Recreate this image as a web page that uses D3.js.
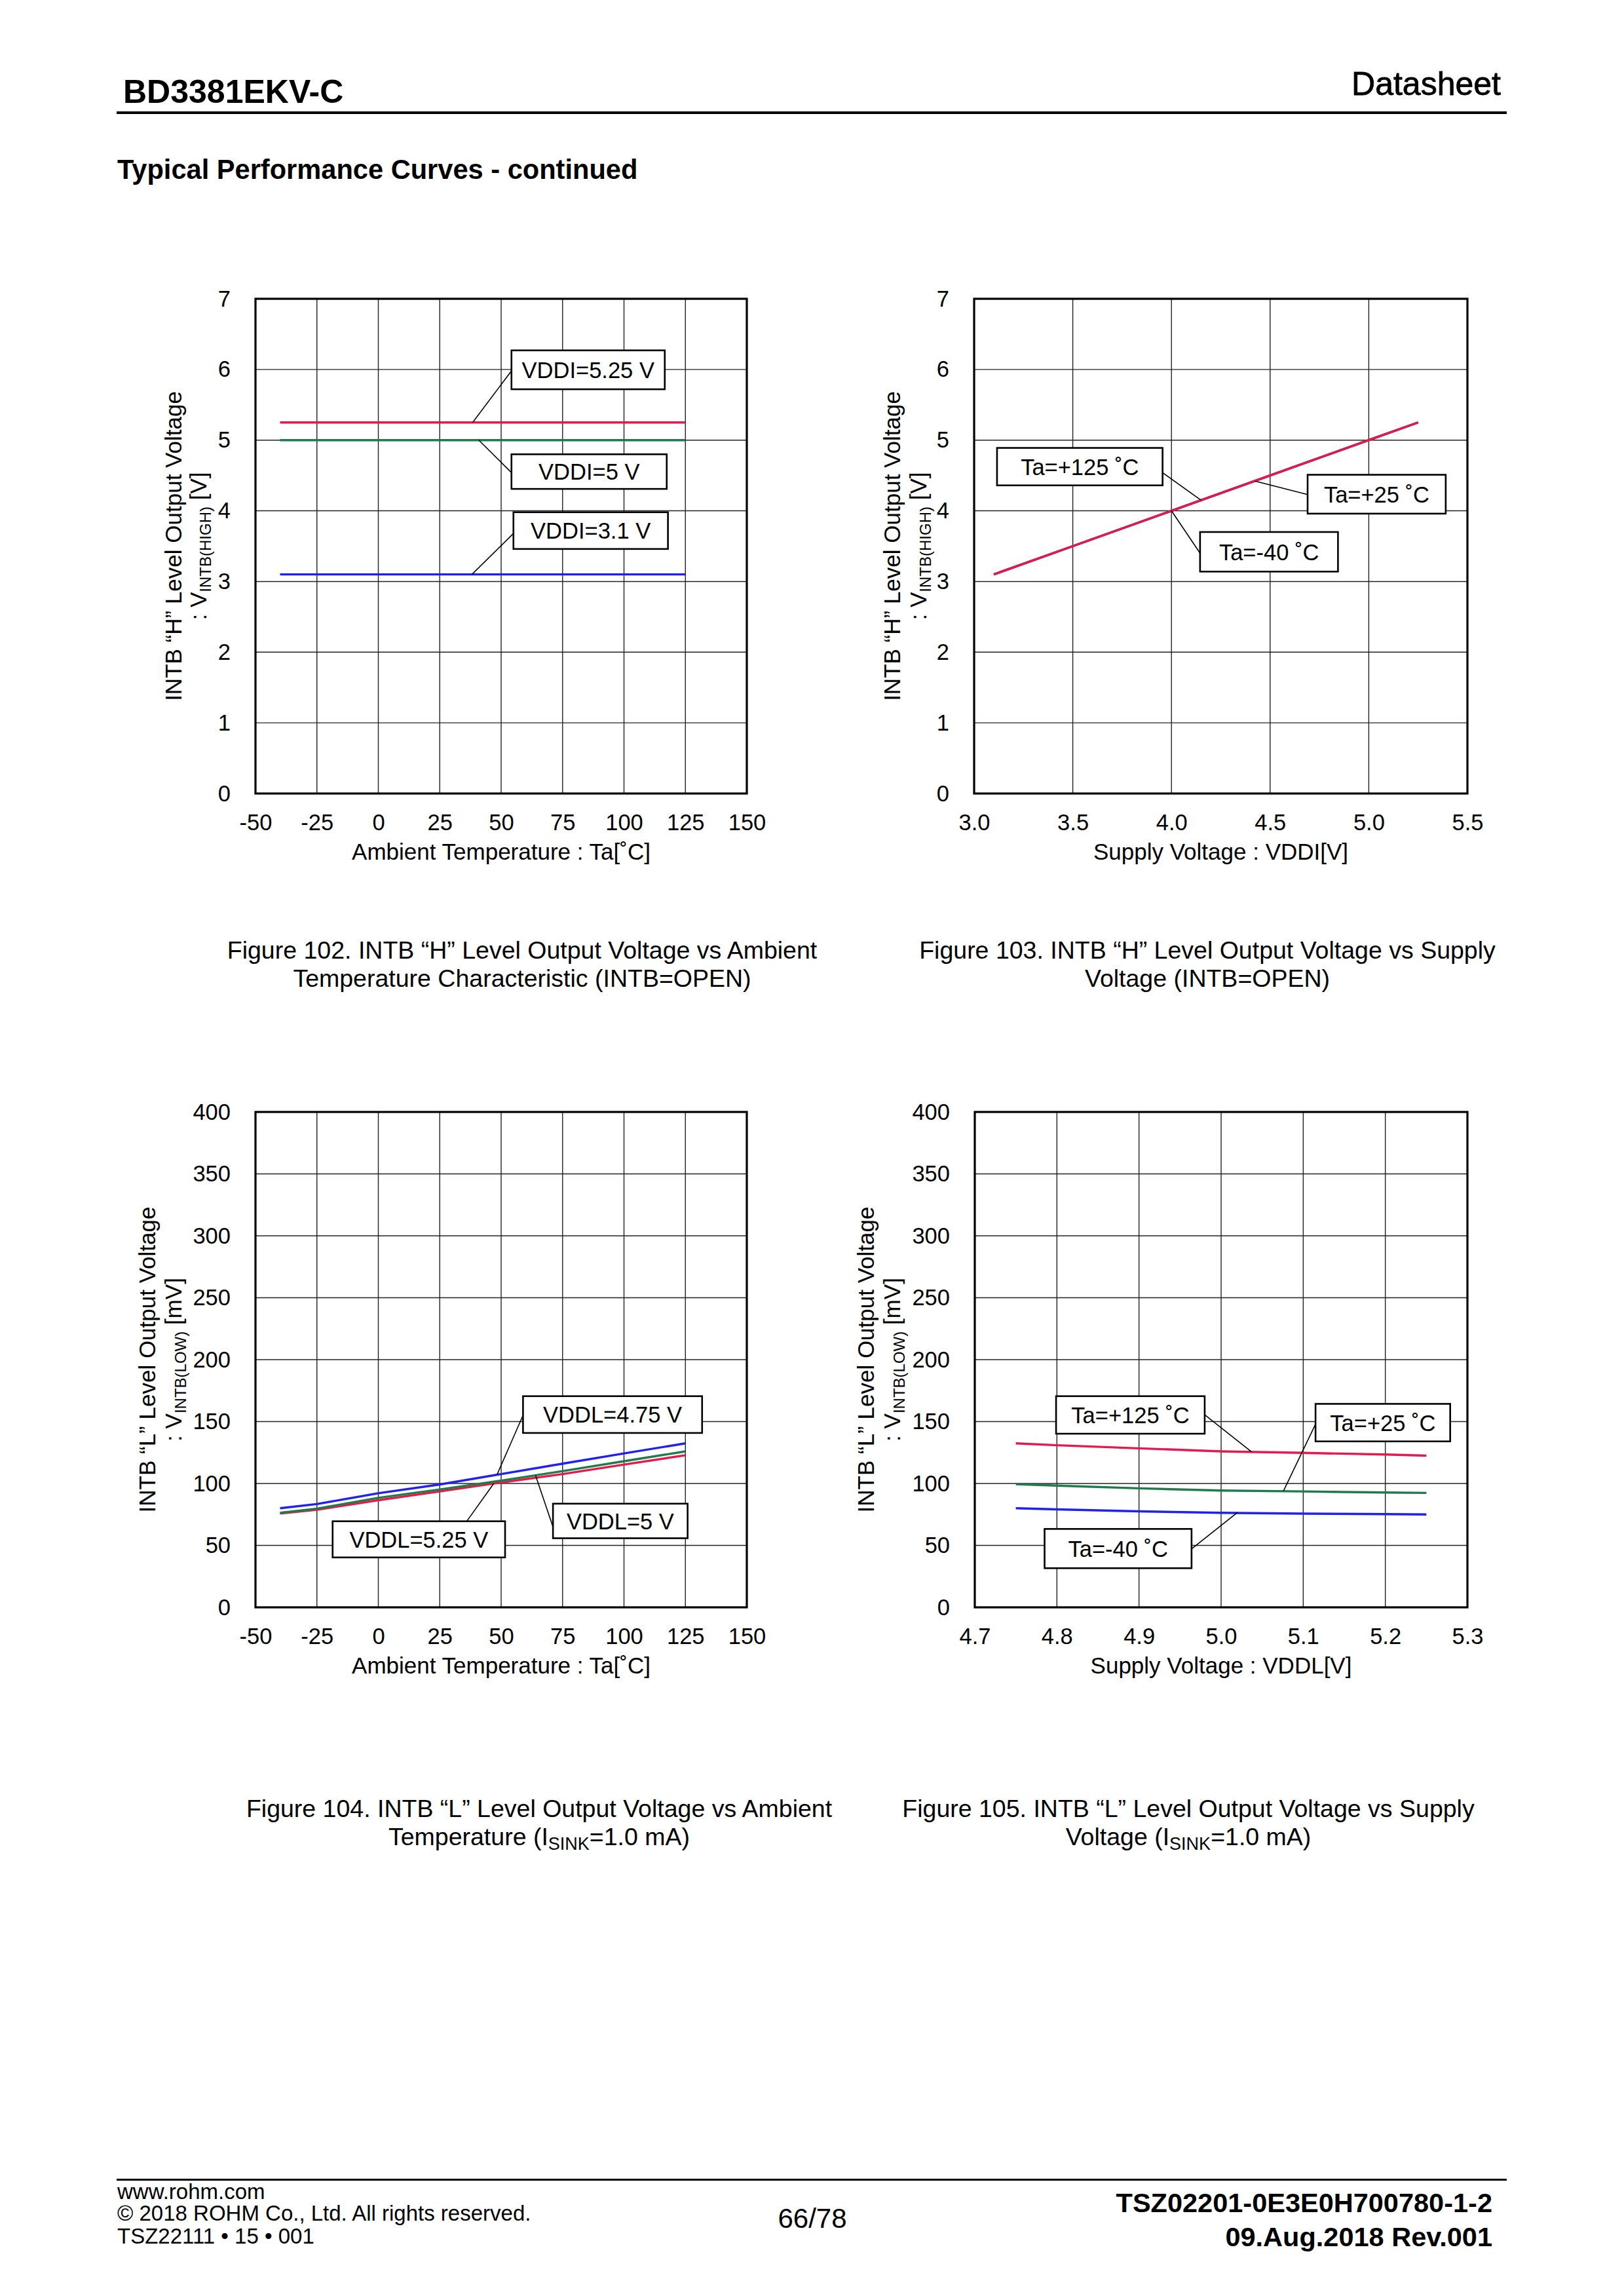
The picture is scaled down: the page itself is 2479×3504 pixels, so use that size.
<!DOCTYPE html>
<html>
<head>
<meta charset="utf-8">
<script src="https://cdn.jsdelivr.net/npm/d3@7"></script>
<style>
  html, body { margin: 0; padding: 0; background: #fff; }
  svg { display: block; }
  text { font-family: "Liberation Sans", Arial, Helvetica, sans-serif; fill: #000; }
</style>
</head>
<body>
<svg id="page" width="2479" height="3504"></svg>
<script>
// ---------------- DATA ----------------
// Tick labels
const tempTicks = [-50, -25, 0, 25, 50, 75, 100, 125, 150];
const vHighTicks = [0, 1, 2, 3, 4, 5, 6, 7];
const vddiTicks = [3.0, 3.5, 4.0, 4.5, 5.0, 5.5];
const vLowTicks = [0, 50, 100, 150, 200, 250, 300, 350, 400];
const vddlTicks = [4.7, 4.8, 4.9, 5.0, 5.1, 5.2, 5.3];

// Figure 102: V_INTB(HIGH) [V] vs Ta
const fig102Temps = [-40, -25, 0, 25, 50, 75, 100, 125];
const fig102Vddi310 = [3.10, 3.10, 3.10, 3.10, 3.10, 3.10, 3.10, 3.10];
const fig102Vddi500 = [5.00, 5.00, 5.00, 5.00, 5.00, 5.00, 5.00, 5.00];
const fig102Vddi525 = [5.25, 5.25, 5.25, 5.25, 5.25, 5.25, 5.25, 5.25];

// Figure 103: V_INTB(HIGH) [V] vs VDDI
const fig103Vddi = [3.1, 3.5, 4.0, 4.5, 5.0, 5.25];
const fig103TaM40 = [3.10, 3.50, 4.00, 4.50, 5.00, 5.25];
const fig103Ta25 = [3.10, 3.50, 4.00, 4.50, 5.00, 5.25];
const fig103Ta125 = [3.10, 3.50, 4.00, 4.50, 5.00, 5.25];

// Figure 104: V_INTB(LOW) [mV] vs Ta
const fig104Temps = [-40, -25, 0, 25, 50, 75, 100, 125];
const fig104Vddl475 = [80.0, 83.4, 92.1, 99.2, 107.6, 116.0, 124.3, 132.4];
const fig104Vddl500 = [76.3, 79.7, 88.4, 95.2, 102.3, 110.0, 118.0, 125.9];
const fig104Vddl525 = [75.7, 78.8, 86.5, 93.6, 100.8, 107.6, 115.3, 122.8];

// Figure 105: V_INTB(LOW) [mV] vs VDDL
const fig105Vddl = [4.75, 4.8, 4.9, 5.0, 5.1, 5.2, 5.25];
const fig105TaM40 = [80.0, 79.1, 77.5, 76.3, 75.7, 75.3, 75.0];
const fig105Ta25 = [99.5, 98.3, 96.1, 94.3, 93.6, 92.7, 92.4];
const fig105Ta125 = [132.4, 130.9, 128.4, 125.9, 124.7, 123.4, 122.5];

// ---------------- STYLE / LAYOUT ----------------
const COL = { red: "#e8184c", green: "#1f7a4c", blue: "#2020f0" };
const FONT_TICK = 34.5;
const FONT_TITLE = 35;
const FONT_CAP = 37.5;

const svg = d3.select("#page");
svg.append("rect").attr("width", 2479).attr("height", 3504).attr("fill", "#fff");

// Header
svg.append("text").attr("x", 188).attr("y", 157).attr("font-size", 50).attr("font-weight", "bold").text("BD3381EKV-C");
svg.append("text").attr("x", 2291).attr("y", 145).attr("font-size", 50).attr("text-anchor", "end").attr("stroke", "#000").attr("stroke-width", 0.8).text("Datasheet");
svg.append("rect").attr("x", 178).attr("y", 170).attr("width", 2122).attr("height", 4).attr("fill", "#000");
svg.append("text").attr("x", 179).attr("y", 273).attr("font-size", 41.6).attr("font-weight", "bold").text("Typical Performance Curves - continued");

// Footer
svg.append("rect").attr("x", 178).attr("y", 3325).attr("width", 2122).attr("height", 3).attr("fill", "#000");
const footL = [["www.rohm.com", 3356], ["\u00A9 2018 ROHM Co., Ltd. All rights reserved.", 3389], ["TSZ22111 \u2022 15 \u2022 001", 3424]];
footL.forEach(([t, y]) => svg.append("text").attr("x", 179).attr("y", y).attr("font-size", 33).text(t));
svg.append("text").attr("x", 1240).attr("y", 3400).attr("font-size", 42).attr("text-anchor", "middle").text("66/78");
svg.append("text").attr("x", 2278).attr("y", 3376).attr("font-size", 41.5).attr("font-weight", "bold").attr("text-anchor", "end").text("TSZ02201-0E3E0H700780-1-2");
svg.append("text").attr("x", 2278).attr("y", 3428).attr("font-size", 41.5).attr("font-weight", "bold").attr("text-anchor", "end").text("09.Aug.2018 Rev.001");

function drawChart(cfg) {
  const g = svg.append("g");
  const x = d3.scaleLinear().domain(cfg.xDomain).range([cfg.box.left, cfg.box.right]);
  const y = d3.scaleLinear().domain(cfg.yDomain).range([cfg.box.bottom, cfg.box.top]);

  // grid
  g.append("g").selectAll("line").data(cfg.xTicks).join("line")
    .attr("x1", d => x(d)).attr("x2", d => x(d))
    .attr("y1", cfg.box.top).attr("y2", cfg.box.bottom)
    .attr("stroke", "#222").attr("stroke-width", 1.4);
  g.append("g").selectAll("line").data(cfg.yTicks).join("line")
    .attr("y1", d => y(d)).attr("y2", d => y(d))
    .attr("x1", cfg.box.left).attr("x2", cfg.box.right)
    .attr("stroke", "#222").attr("stroke-width", 1.4);

  // axes (labels only)
  const xa = g.append("g").attr("transform", `translate(0,${cfg.box.bottom})`)
    .call(d3.axisBottom(x).tickValues(cfg.xTicks).tickSize(0).tickPadding(32).tickFormat(cfg.xFmt));
  const ya = g.append("g").attr("transform", `translate(${cfg.box.left},0)`)
    .call(d3.axisLeft(y).tickValues(cfg.yTicks).tickSize(0).tickPadding(38).tickFormat(cfg.yFmt));
  [xa, ya].forEach(a => {
    a.select(".domain").remove();
    a.selectAll("text").attr("font-size", FONT_TICK).attr("font-family", "Liberation Sans, Arial, sans-serif").attr("fill", "#000");
  });

  // series
  const line = d3.line().x(d => x(d[0])).y(d => y(d[1]));
  cfg.series.forEach(s => {
    const pts = s.xs.map((xv, i) => [xv, s.ys[i]]);
    g.append("path").attr("d", line(pts)).attr("fill", "none")
      .attr("stroke", s.color).attr("stroke-width", 3.4).attr("stroke-linejoin", "round");
  });

  // frame
  g.append("rect").attr("x", cfg.box.left).attr("y", cfg.box.top)
    .attr("width", cfg.box.right - cfg.box.left).attr("height", cfg.box.bottom - cfg.box.top)
    .attr("fill", "none").attr("stroke", "#000").attr("stroke-width", 3.2);

  // annotations
  cfg.notes.forEach(n => {
    g.append("line").attr("x1", x(n.from[0])).attr("y1", y(n.from[1]))
      .attr("x2", x(n.to[0])).attr("y2", y(n.to[1]))
      .attr("stroke", "#000").attr("stroke-width", 1.6);
    const bx = x(n.bx[0]), bw = x(n.bx[1]) - bx;
    const by = y(n.by[1]), bh = y(n.by[0]) - by;
    g.append("rect").attr("x", bx).attr("y", by).attr("width", bw).attr("height", bh)
      .attr("fill", "#fff").attr("stroke", "#000").attr("stroke-width", 2.6);
    g.append("text").attr("x", bx + bw / 2).attr("y", by + bh / 2).attr("dy", "0.36em")
      .attr("text-anchor", "middle").attr("font-size", FONT_TICK).text(n.text);
  });

  // x title
  g.append("text").attr("x", (cfg.box.left + cfg.box.right) / 2).attr("y", cfg.box.bottom + 101)
    .attr("text-anchor", "middle").attr("font-size", FONT_TITLE).text(cfg.xTitle);

  // y title (two lines, rotated)
  const cy = (cfg.box.top + cfg.box.bottom) / 2;
  g.append("text").attr("transform", `translate(${cfg.box.left - cfg.yTitleOff[0]},${cy}) rotate(-90)`)
    .attr("dy", "0.36em").attr("text-anchor", "middle").attr("font-size", FONT_TITLE).text(cfg.yTitle1);
  const t2 = g.append("text").attr("transform", `translate(${cfg.box.left - cfg.yTitleOff[1]},${cy}) rotate(-90)`)
    .attr("dy", "0.36em").attr("text-anchor", "middle").attr("font-size", FONT_TITLE);
  t2.append("tspan").text(": V");
  t2.append("tspan").attr("font-size", 24).attr("dy", 7).text(cfg.ySub);
  t2.append("tspan").attr("dy", -7).text(" " + cfg.yUnit);

  // caption
  const capX = cfg.capX;
  g.append("text").attr("x", capX).attr("y", cfg.capY).attr("text-anchor", "middle").attr("font-size", FONT_CAP).text(cfg.cap1);
  const c2 = g.append("text").attr("x", capX).attr("y", cfg.capY + 43).attr("text-anchor", "middle").attr("font-size", FONT_CAP);
  cfg.cap2.forEach(p => {
    const ts = c2.append("tspan").text(p.t);
    if (p.sub) ts.attr("font-size", 27).attr("dy", 7);
    if (p.back) ts.attr("dy", -7);
  });
}

const deg = "\u02DA";
// plain hyphen-minus like the reference
const fmt0 = d => d3.format("d")(d).replace("\u2212", "-");
const fmt1 = d => d3.format(".1f")(d).replace("\u2212", "-");

drawChart({
  box: { left: 390, right: 1140, top: 456, bottom: 1211 },
  xDomain: [-50, 150], yDomain: [0, 7], xTicks: tempTicks, yTicks: vHighTicks, xFmt: fmt0, yFmt: fmt0,
  series: [
    { xs: fig102Temps, ys: fig102Vddi310, color: COL.blue },
    { xs: fig102Temps, ys: fig102Vddi500, color: COL.green },
    { xs: fig102Temps, ys: fig102Vddi525, color: COL.red }
  ],
  notes: [
    { text: "VDDI=5.25 V", bx: [54.2, 116.6], by: [5.72, 6.27], from: [54.2, 5.98], to: [38.4, 5.25] },
    { text: "VDDI=5 V", bx: [54.2, 117.4], by: [4.31, 4.80], from: [54.2, 4.54], to: [40.9, 5.0] },
    { text: "VDDI=3.1 V", bx: [55.0, 117.9], by: [3.46, 3.98], from: [55.0, 3.68], to: [38.1, 3.1] }
  ],
  xTitle: "Ambient Temperature : Ta[" + deg + "C]",
  yTitle1: "INTB \u201CH\u201D Level Output Voltage", ySub: "INTB(HIGH)", yUnit: "[V]", yTitleOff: [126, 88],
  capX: 797, capY: 1463,
  cap1: "Figure 102. INTB \u201CH\u201D Level Output Voltage vs Ambient",
  cap2: [{ t: "Temperature Characteristic (INTB=OPEN)" }]
});

drawChart({
  box: { left: 1487, right: 2240, top: 456, bottom: 1211 },
  xDomain: [3.0, 5.5], yDomain: [0, 7], xTicks: vddiTicks, yTicks: vHighTicks, xFmt: fmt1, yFmt: fmt0,
  series: [
    { xs: fig103Vddi, ys: fig103TaM40, color: COL.blue },
    { xs: fig103Vddi, ys: fig103Ta25, color: COL.green },
    { xs: fig103Vddi, ys: fig103Ta125, color: COL.red }
  ],
  notes: [
    { text: "Ta=+125 " + deg + "C", bx: [3.116, 3.955], by: [4.36, 4.89], from: [3.955, 4.54], to: [4.15, 4.15] },
    { text: "Ta=+25 " + deg + "C", bx: [4.69, 5.39], by: [3.96, 4.51], from: [4.69, 4.23], to: [4.424, 4.42] },
    { text: "Ta=-40 " + deg + "C", bx: [4.145, 4.844], by: [3.14, 3.70], from: [4.145, 3.40], to: [4.0, 4.0] }
  ],
  xTitle: "Supply Voltage : VDDI[V]",
  yTitle1: "INTB \u201CH\u201D Level Output Voltage", ySub: "INTB(HIGH)", yUnit: "[V]", yTitleOff: [126, 86],
  capX: 1843, capY: 1463,
  cap1: "Figure 103. INTB \u201CH\u201D Level Output Voltage vs Supply",
  cap2: [{ t: "Voltage (INTB=OPEN)" }]
});

drawChart({
  box: { left: 390, right: 1140, top: 1697, bottom: 2453 },
  xDomain: [-50, 150], yDomain: [0, 400], xTicks: tempTicks, yTicks: vLowTicks, xFmt: fmt0, yFmt: fmt0,
  series: [
    { xs: fig104Temps, ys: fig104Vddl525, color: COL.red },
    { xs: fig104Temps, ys: fig104Vddl500, color: COL.green },
    { xs: fig104Temps, ys: fig104Vddl475, color: COL.blue }
  ],
  notes: [
    { text: "VDDL=4.75 V", bx: [58.9, 131.8], by: [140.8, 170.5], from: [58.9, 155], to: [48.4, 107.5] },
    { text: "VDDL=5 V", bx: [71.1, 125.9], by: [55.8, 83.7], from: [71.1, 65], to: [64, 106.5] },
    { text: "VDDL=5.25 V", bx: [-18.6, 51.6], by: [40.3, 69.5], from: [36.0, 69.5], to: [47, 100] }
  ],
  xTitle: "Ambient Temperature : Ta[" + deg + "C]",
  yTitle1: "INTB \u201CL\u201D Level Output Voltage", ySub: "INTB(LOW)", yUnit: "[mV]", yTitleOff: [166, 126],
  capX: 823, capY: 2773,
  cap1: "Figure 104. INTB \u201CL\u201D Level Output Voltage vs Ambient",
  cap2: [{ t: "Temperature (I" }, { t: "SINK", sub: true }, { t: "=1.0 mA)", back: true }]
});

drawChart({
  box: { left: 1488, right: 2240, top: 1697, bottom: 2453 },
  xDomain: [4.7, 5.3], yDomain: [0, 400], xTicks: vddlTicks, yTicks: vLowTicks, xFmt: fmt1, yFmt: fmt0,
  series: [
    { xs: fig105Vddl, ys: fig105TaM40, color: COL.blue },
    { xs: fig105Vddl, ys: fig105Ta25, color: COL.green },
    { xs: fig105Vddl, ys: fig105Ta125, color: COL.red }
  ],
  notes: [
    { text: "Ta=+125 " + deg + "C", bx: [4.799, 4.980], by: [140.2, 170.5], from: [4.980, 155.5], to: [5.037, 125.6] },
    { text: "Ta=+25 " + deg + "C", bx: [5.115, 5.279], by: [134, 164.3], from: [5.115, 148], to: [5.076, 94] },
    { text: "Ta=-40 " + deg + "C", bx: [4.785, 4.964], by: [31.6, 63.3], from: [4.964, 47.2], to: [5.02, 76.6] }
  ],
  xTitle: "Supply Voltage : VDDL[V]",
  yTitle1: "INTB \u201CL\u201D Level Output Voltage", ySub: "INTB(LOW)", yUnit: "[mV]", yTitleOff: [167, 127],
  capX: 1814, capY: 2773,
  cap1: "Figure 105. INTB \u201CL\u201D Level Output Voltage vs Supply",
  cap2: [{ t: "Voltage (I" }, { t: "SINK", sub: true }, { t: "=1.0 mA)", back: true }]
});
</script>
</body>
</html>
